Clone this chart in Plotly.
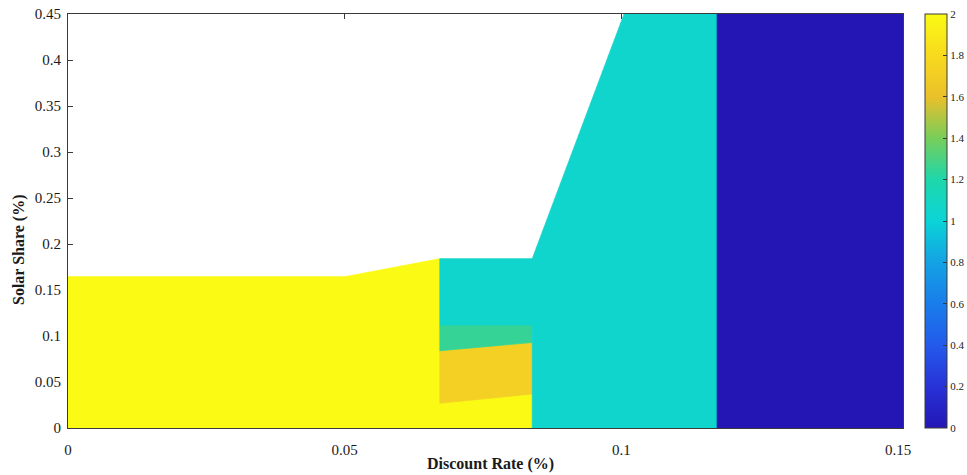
import plotly.graph_objects as go
from plotly.colors import sample_colorscale

# ---- data ----
x_ticks = [0, 0.05, 0.1, 0.15]
x_tick_labels = ["0", "0.05", "0.1", "0.15"]
y_ticks = [0, 0.05, 0.1, 0.15, 0.2, 0.25, 0.3, 0.35, 0.4, 0.45]
y_tick_labels = ["0", "0.05", "0.1", "0.15", "0.2", "0.25", "0.3", "0.35", "0.4", "0.45"]
cbar_ticks = [0, 0.2, 0.4, 0.6, 0.8, 1, 1.2, 1.4, 1.6, 1.8, 2]
cbar_tick_labels = ["0", "0.2", "0.4", "0.6", "0.8", "1", "1.2", "1.4", "1.6", "1.8", "2"]

# region polygons (discount rate, solar share) and their values
yellow_x = [0, 0, 0.0501, 0.0669, 0.0672, 0.0672]
yellow_y = [0, 0.1645, 0.1645, 0.184, 0.184, 0]
yellow_low_x = [0.0672, 0.0672, 0.0839, 0.0839]
yellow_low_y = [0, 0.027, 0.037, 0]
orange_x = [0.0672, 0.0672, 0.0839, 0.0839]
orange_y = [0.027, 0.084, 0.093, 0.037]
green_x = [0.0672, 0.0672, 0.0839, 0.0839]
green_y = [0.084, 0.112, 0.112, 0.093]
cyan_x = [0.0672, 0.0672, 0.0839, 0.1005, 0.1173, 0.1173, 0.0839, 0.0839]
cyan_y = [0.112, 0.184, 0.184, 0.45, 0.45, 0, 0, 0.112]
blue_x = [0.1173, 0.1173, 0.1509, 0.1509]
blue_y = [0, 0.45, 0.45, 0]

yellow_val = 2.0
orange_val = 1.72
green_val = 1.25
cyan_val = 1.05
blue_val = 0.0

cmin, cmax = 0, 2
colorscale = [
    [0.0, "rgb(35,22,180)"],
    [0.1, "rgb(40,50,215)"],
    [0.2, "rgb(35,90,235)"],
    [0.3, "rgb(25,125,235)"],
    [0.4, "rgb(20,162,228)"],
    [0.5, "rgb(10,212,215)"],
    [0.6, "rgb(30,215,170)"],
    [0.7, "rgb(120,205,90)"],
    [0.8, "rgb(235,192,42)"],
    [0.9, "rgb(248,218,30)"],
    [1.0, "rgb(250,250,20)"],
]


def col(v):
    return sample_colorscale(colorscale, [(v - cmin) / (cmax - cmin)])[0]


regions = [
    (yellow_x, yellow_y, yellow_val),
    (yellow_low_x, yellow_low_y, yellow_val),
    (orange_x, orange_y, orange_val),
    (green_x, green_y, green_val),
    (cyan_x, cyan_y, cyan_val),
    (blue_x, blue_y, blue_val),
]

fig = go.Figure()
for xs, ys, v in regions:
    c = col(v)
    fig.add_trace(go.Scatter(
        x=xs + [xs[0]], y=ys + [ys[0]], mode="lines", fill="toself",
        fillcolor=c, line=dict(color=c, width=0.8),
        hoverinfo="skip", showlegend=False))

# colorbar carrier
fig.add_trace(go.Scatter(
    x=[0.0], y=[0.0], mode="markers",
    marker=dict(size=1, opacity=0, color=[yellow_val], cmin=cmin, cmax=cmax,
                colorscale=colorscale, showscale=True,
                colorbar=dict(
                    x=(925 - 68) / 835, xanchor="left", xpad=0,
                    y=0.5, yanchor="middle", ypad=0, len=1, lenmode="fraction",
                    thickness=22, thicknessmode="pixels",
                    outlinecolor="#3a3a3a", outlinewidth=1,
                    tickvals=cbar_ticks, ticktext=cbar_tick_labels,
                    ticks="inside", ticklen=4, tickcolor="#3a3a3a",
                    tickfont=dict(family="Liberation Serif", size=11, color="#1a1a1a"),
                )),
    hoverinfo="skip", showlegend=False))

axis_common = dict(
    showgrid=False, zeroline=False, showline=True, linecolor="#3a3a3a",
    linewidth=1, mirror="allticks", ticks="inside", ticklen=5,
    tickcolor="#3a3a3a", layer="below traces",
    tickfont=dict(family="Liberation Serif", size=15, color="#1a1a1a"),
)

fig.update_xaxes(range=[0, 0.1509], tickvals=x_ticks, ticktext=x_tick_labels,
                 ticklabelstandoff=8, **axis_common)
fig.update_yaxes(range=[0, 0.45], tickvals=y_ticks, ticktext=y_tick_labels,
                 ticklabelstandoff=3, **axis_common)

fig.add_annotation(text="<b>Discount Rate (%)</b>", xref="paper", yref="paper",
                   x=(490 - 68) / 835, y=(428 - 464) / 414, xanchor="center",
                   yanchor="middle", showarrow=False,
                   font=dict(family="Liberation Serif", size=16, color="#1a1a1a"))
fig.add_annotation(text="<b>Solar Share (%)</b>", xref="paper", yref="paper",
                   x=(19 - 68) / 835, y=(428 - 250) / 414, xanchor="center",
                   yanchor="middle", textangle=-90, showarrow=False,
                   font=dict(family="Liberation Serif", size=16, color="#1a1a1a"))

fig.update_layout(
    width=967, height=475,
    margin=dict(l=68, r=967 - 903, t=14, b=475 - 428, autoexpand=False),
    paper_bgcolor="white", plot_bgcolor="white",
)

fig.write_html("out.html")
